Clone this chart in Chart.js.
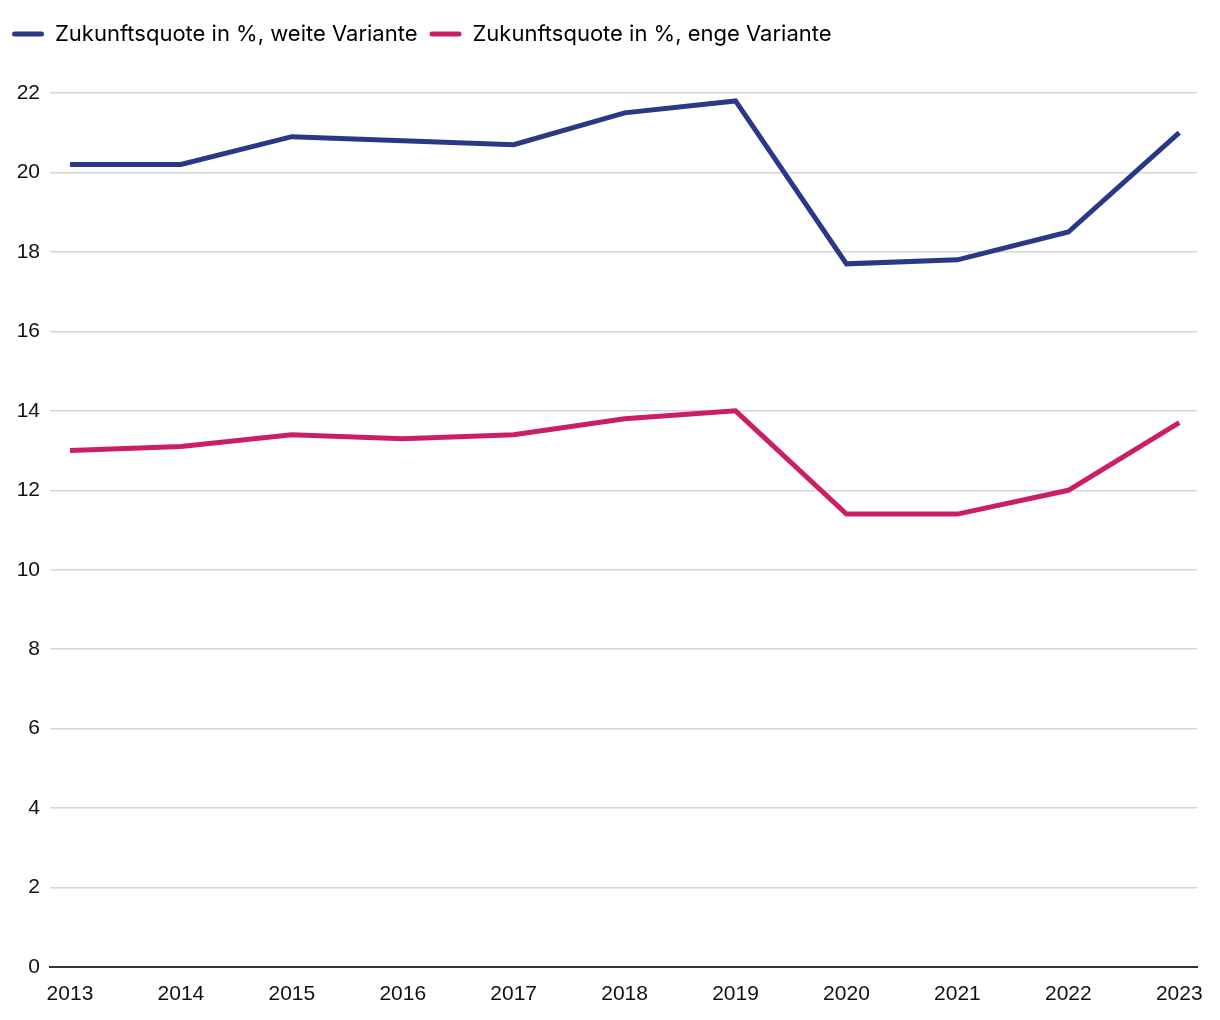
<!DOCTYPE html>
<html>
<head>
<meta charset="utf-8">
<script src="https://cdn.jsdelivr.net/npm/chart.js@4/dist/chart.umd.min.js"></script>
<style>
  html, body { margin: 0; padding: 0; background: #fff; }
  #wrap { width: 1220px; height: 1020px; }
</style>
</head>
<body>
<div id="wrap"><canvas id="myChart" width="1220" height="1020"></canvas></div>
<script>
var years = [2013, 2014, 2015, 2016, 2017, 2018, 2019, 2020, 2021, 2022, 2023];
var weite = [20.2, 20.2, 20.9, 20.8, 20.7, 21.5, 21.8, 17.7, 17.8, 18.5, 21.0];
var enge = [13.0, 13.1, 13.4, 13.3, 13.4, 13.8, 14.0, 11.4, 11.4, 12.0, 13.7];
var yTicks = [0, 2, 4, 6, 8, 10, 12, 14, 16, 18, 20, 22];

function pts(vals) {
  return years.map(function (yr, i) { return { x: yr, y: vals[i] }; });
}

// more room under the legend
var legendGap = {
  id: 'legendGap',
  beforeInit: function (c) {
    var fit = c.legend.fit;
    c.legend.fit = function () {
      fit.bind(c.legend)();
      this.height += 38;
    };
  }
};

var chart = new Chart('myChart', {
  type: 'line',
  plugins: [legendGap],
  data: {
    datasets: [{
      label: "Zukunftsquote in %, weite Variante",
      borderColor: '#2a3886',
      backgroundColor: '#2a3886',
      borderWidth: 5,
      pointRadius: 0,
      data: pts(weite)
    }, {
      label: "Zukunftsquote in %, enge Variante",
      borderColor: '#cc1d67',
      backgroundColor: '#cc1d67',
      borderWidth: 5,
      pointRadius: 0,
      data: pts(enge)
    }]
  },
  options: {
    responsive: false,
    animation: false,
    layout: { padding: { left: 0, right: 23, top: 11, bottom: 0 } },
    plugins: {
      tooltip: { enabled: false },
      legend: {
        position: 'top',
        align: 'start',
        labels: {
          boxWidth: 32,
          boxHeight: 5,
          padding: 12,
          color: '#111',
          font: { family: 'Inter', size: 22 },
          generateLabels: function (c) {
            return c.data.datasets.map(function (d, i) {
              return {
                text: d.label,
                fillStyle: d.borderColor,
                strokeStyle: d.borderColor,
                lineWidth: 0,
                borderRadius: 2.5,
                datasetIndex: i
              };
            });
          }
        }
      }
    },
    scales: {
      x: {
        type: 'linear',
        min: 2012.82,
        max: 2023.16,
        afterBuildTicks: function (s) {
          s.ticks = years.map(function (v) { return { value: v }; });
        },
        afterFit: function (s) { s.height = 53; },
        grid: { display: false, drawTicks: false },
        border: { display: true, color: '#333', width: 2 },
        ticks: {
          autoSkip: false,
          maxRotation: 0,
          padding: 15,
          color: '#111',
          font: { family: 'Liberation Sans', size: 21 },
          callback: function (v) { return String(v); }
        }
      },
      y: {
        min: 0,
        max: 22,
        afterBuildTicks: function (s) {
          s.ticks = yTicks.map(function (v) { return { value: v }; });
        },
        afterFit: function (s) { s.width = 50; },
        grid: { color: '#d6d6d6', lineWidth: 1.5, drawTicks: false },
        border: { display: false },
        ticks: {
          padding: 10,
          color: '#111',
          font: { family: 'Liberation Sans', size: 21 }
        }
      }
    }
  }
});
</script>
</body>
</html>
